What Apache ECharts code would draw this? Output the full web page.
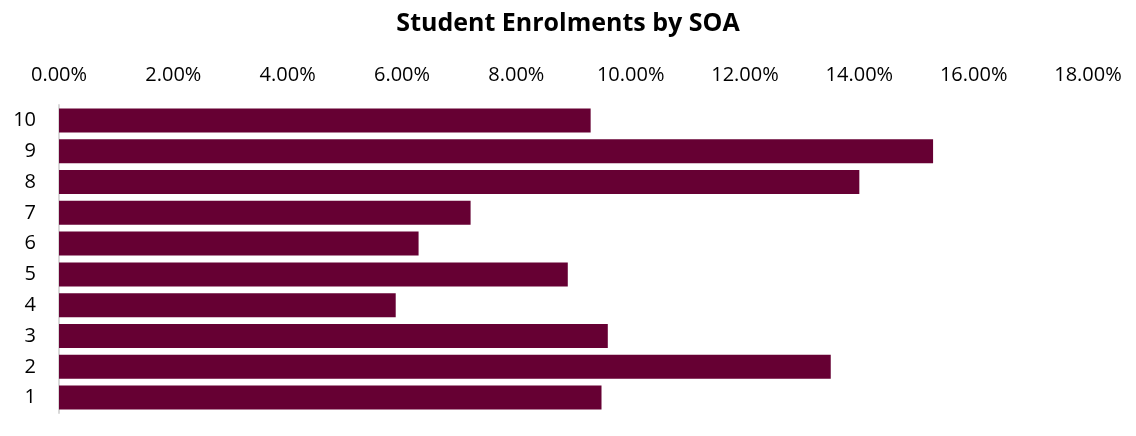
<!DOCTYPE html>
<html><head><meta charset="utf-8">
<script src="https://cdn.jsdelivr.net/npm/echarts@6/dist/echarts.min.js"></script>
<style>html,body{margin:0;padding:0;background:#fff}#c{width:1136px;height:436px}</style>
</head><body><div id="c"></div>
<script>
const categories = ['1','2','3','4','5','6','7','8','9','10'];
const values = [9.49, 13.50, 9.60, 5.89, 8.90, 6.29, 7.20, 14.00, 15.29, 9.30];
const title = 'Student Enrolments by SOA';
const font = '"Open Sans", "Noto Sans", sans-serif';
const chart = echarts.init(document.getElementById('c'));
chart.setOption({
  animation: false,
  title: { text: title, left: 'center', top: 6,
    textStyle: { fontFamily: font, fontWeight: 'bold', fontSize: 25, color: '#000' } },
  grid: { left: 59, right: 48, top: 105, bottom: 23, containLabel: false },
  xAxis: { type: 'value', position: 'top', min: 0, max: 18, interval: 2,
    axisLine: { show: false }, axisTick: { show: false }, splitLine: { show: false },
    axisLabel: { margin: 20, fontFamily: font, fontSize: 20, color: '#000',
      formatter: v => v.toFixed(2) + '%' } },
  yAxis: { type: 'category', data: categories,
    axisLine: { show: true, lineStyle: { color: '#d9d9d9', width: 2 } },
    axisTick: { show: false },
    axisLabel: { margin: 23, fontFamily: font, fontSize: 20, color: '#000' } },
  series: [{ type: 'bar', data: values, barCategoryGap: '22%',
    itemStyle: { color: '#660033' } }]
});
</script></body></html>
